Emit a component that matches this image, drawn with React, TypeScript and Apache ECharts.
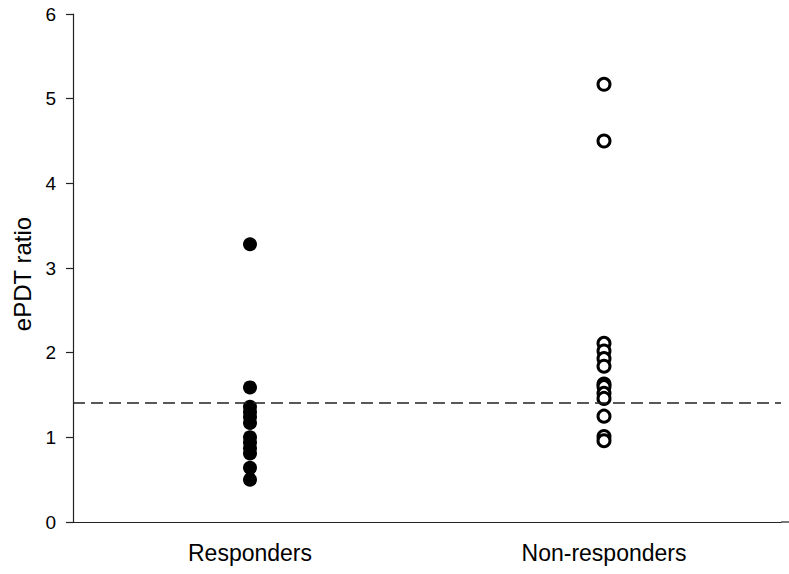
import React, { useEffect, useRef } from "react";
import * as echarts from "echarts";

const categories = ["Responders", "Non-responders"];
const responders = [3.28, 1.59, 1.36, 1.3, 1.24, 1.17, 1.0, 0.94, 0.87, 0.81, 0.64, 0.5];
const nonResponders = [5.17, 4.5, 2.11, 2.02, 1.93, 1.84, 1.63, 1.6, 1.52, 1.46, 1.25, 1.01, 0.96];
const cutoff = 1.41;
const yTicks = [0, 1, 2, 3, 4, 5, 6];

export default function App() {
  const ref = useRef<HTMLDivElement>(null);
  useEffect(() => {
    if (!ref.current) return;
    const chart = echarts.init(ref.current, null, { renderer: "svg" });
    const font = "Liberation Sans, Arial, sans-serif";
    chart.setOption({
      animation: false,
      backgroundColor: "#ffffff",
      grid: { left: 73, right: 8, top: 14, bottom: 52 },
      graphic: [
        {
          type: "line",
          shape: { x1: 781, y1: 522, x2: 789, y2: 522 },
          style: { stroke: "#222", lineWidth: 1.2 },
        },
      ],
      xAxis: {
        type: "category",
        data: categories,
        boundaryGap: true,
        axisLine: { lineStyle: { color: "#222", width: 1.2 } },
        axisTick: { alignWithLabel: true, length: 8, lineStyle: { color: "#222", width: 1.2 } },
        axisLabel: { color: "#000", fontSize: 23, fontFamily: font, margin: 19 },
      },
      yAxis: {
        type: "value",
        min: yTicks[0],
        max: yTicks[yTicks.length - 1],
        interval: 1,
        name: "ePDT ratio",
        nameLocation: "middle",
        nameGap: 33,
        nameTextStyle: { color: "#000", fontSize: 24, fontFamily: font, padding: [0, 12, 0, 0] },
        axisLine: { show: true, lineStyle: { color: "#222", width: 1.2 } },
        axisTick: { show: true, length: 7, lineStyle: { color: "#222", width: 1.2 } },
        axisLabel: { color: "#000", fontSize: 19, fontFamily: font, margin: 17 },
        splitLine: { show: false },
      },
      series: [
        {
          type: "scatter",
          name: "Responders",
          data: responders.map((v) => [0, v]),
          symbol: "circle",
          symbolSize: 14,
          itemStyle: { color: "#000", opacity: 1 },
          markLine: {
            silent: true,
            symbol: "none",
            label: { show: false },
            lineStyle: { color: "#222", type: [12, 6], width: 1.5, opacity: 1 },
            data: [{ yAxis: cutoff }],
          },
          z: 3,
        },
        {
          type: "scatter",
          name: "Non-responders",
          data: nonResponders.map((v) => [1, v]),
          symbol: "circle",
          symbolSize: 12,
          itemStyle: { color: "#fff", borderColor: "#000", borderWidth: 3, opacity: 1 },
          z: 3,
        },
      ],
    });
    return () => chart.dispose();
  }, []);
  return <div ref={ref} style={{ width: 789, height: 574, position: "absolute", left: 0, top: 0 }} />;
}
